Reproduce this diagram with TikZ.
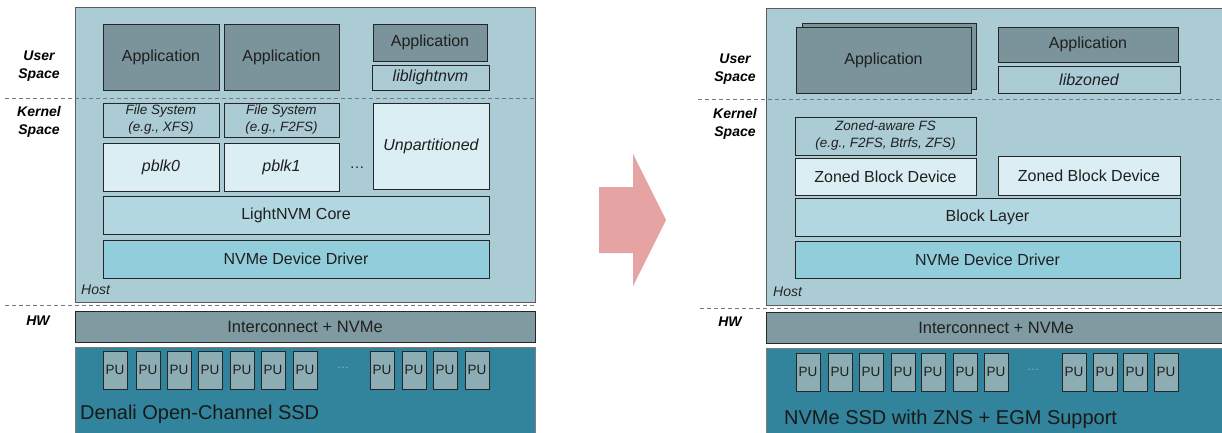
\documentclass[tikz,border=0pt]{standalone}
\usepackage{fontspec}
\setmainfont{Liberation Sans}

\definecolor{hostbg}{HTML}{ABCCD5}
\definecolor{appbg}{HTML}{7B939A}
\definecolor{palebg}{HTML}{DAEEF3}
\definecolor{corebg}{HTML}{B3D7E0}
\definecolor{drvbg}{HTML}{92CDDC}
\definecolor{icbg}{HTML}{7F9BA1}
\definecolor{ssdbg}{HTML}{31849B}
\definecolor{pubg}{HTML}{8DADB5}
\definecolor{edge}{HTML}{262626}
\definecolor{dashc}{HTML}{6E7B80}
\definecolor{arrowc}{HTML}{E6A3A3}
\definecolor{dotc}{HTML}{8FB8C4}

\tikzset{
  blk/.style={draw=edge, line width=0.9pt, inner sep=0pt, text=black!88,
              font=\fontsize{16}{18}\selectfont, align=center},
  panel/.style={draw=edge!75, line width=0.9pt, fill=hostbg, inner sep=0pt},
  app/.style={blk, fill=appbg},
  lib/.style={blk, fill=hostbg, font=\fontsize{16}{18}\selectfont\itshape},
  fsbox/.style={blk, fill=hostbg, font=\fontsize{13.5}{17}\selectfont\itshape},
  pale/.style={blk, fill=palebg},
  paleit/.style={blk, fill=palebg, font=\fontsize{16}{18}\selectfont\itshape},
  core/.style={blk, fill=corebg},
  drv/.style={blk, fill=drvbg},
  ic/.style={blk, fill=icbg, font=\fontsize{16.5}{18}\selectfont},
  ssd/.style={draw=edge!60, line width=0.9pt, fill=ssdbg, inner sep=0pt},
  pu/.style={blk, fill=pubg, font=\fontsize{13.5}{16}\selectfont},
  side/.style={font=\fontsize{14}{17.5}\selectfont\bfseries\itshape, align=center, text=black},
  hostlbl/.style={font=\fontsize{14}{16}\selectfont\itshape, text=black!85, anchor=west, inner sep=0pt},
  ssdlbl/.style={font=\fontsize{20}{22}\selectfont, text=black!90, anchor=west, inner sep=0pt},
  sep/.style={draw=dashc, line width=1pt, dash pattern=on 4pt off 3pt},
}

% box from its corners: name, x1, y1, x2, y2, style, text
\newcommand\mkbox[7]{%
  \node[#6, minimum width={#4-(#2)}, minimum height={#5-(#3)}]
    (#1) at ({((#2)+(#4))/2},{((#3)+(#5))/2}) {#7};}

\begin{document}
\begin{tikzpicture}[x=1pt, y=-1pt]
\useasboundingbox (0,0) rectangle (1222,432);

%% ---------------- Open-channel stack ----------------
\mkbox{hostL}{75}{7}{535}{302}{panel}{}
\draw[sep] (5,98) -- (535,98);
\draw[sep] (5,305) -- (535,305);

\node[side] (usL) at (39,66) {User\\Space};
\node[side] (ksL) at (39,122) {Kernel\\Space};
\node[side] (hwL) at (38,321) {HW};

\mkbox{appL1}{103}{24}{219}{90}{app}{Application}
\mkbox{appL2}{224}{24}{339}{90}{app}{Application}
\mkbox{appL3}{373}{24}{487}{61}{app}{Application}
\mkbox{libL}{372}{65}{489}{90}{lib}{liblightnvm}

\mkbox{fsL1}{103}{103}{219}{137}{fsbox}{File System\\(e.g., XFS)}
\mkbox{fsL2}{224}{103}{339}{137}{fsbox}{File System\\(e.g., F2FS)}
\mkbox{pblk0}{103}{143}{219}{191}{paleit}{pblk0}
\mkbox{pblk1}{224}{143}{339}{191}{paleit}{pblk1}
\node[font=\fontsize{15}{16}\selectfont, text=black!85] (dotsK) at (357,168) {\dots};
\mkbox{unpart}{373}{103}{489}{189}{paleit}{Unpartitioned}

\mkbox{lnvm}{103}{196}{489}{234}{core}{LightNVM Core}
\mkbox{drvL}{103}{240}{489}{278}{drv}{NVMe Device Driver}
\node[hostlbl] (hostLlbl) at (81,290) {Host};

\mkbox{icL}{75}{311}{535}{342}{ic}{Interconnect + NVMe}
\mkbox{ssdL}{75}{347}{535}{434}{ssd}{}
\foreach \x [count=\i] in {103,136,167,198,230,261,293,370,402,433,465}
  {\mkbox{puL\i}{\x}{351}{\x+24}{389}{pu}{PU}}
\node[font=\fontsize{12}{14}\selectfont, text=dotc] (dotsL) at (343,368) {\dots};
\node[ssdlbl] (ssdLlbl) at (80,414) {Denali Open-Channel SSD};

%% ---------------- transition arrow ----------------
\fill[arrowc] (599,187) -- (633,187) -- (633,154) -- (666,220)
  -- (633,286) -- (633,253) -- (599,253) -- cycle;

%% ---------------- Zoned namespace stack ----------------
\mkbox{hostR}{766}{8}{1226}{305}{panel}{}
\draw[sep] (698,99) -- (1222,99);
\draw[sep] (700,308) -- (1222,308);

\node[side] (usR) at (735,69) {User\\Space};
\node[side] (ksR) at (735,124) {Kernel\\Space};
\node[side] (hwR) at (730,322) {HW};

\mkbox{appRback}{802}{23}{976}{89}{app}{}
\mkbox{appR1}{796}{27}{971}{93}{app}{Application}
\mkbox{appR2}{998}{27}{1178}{62}{app}{Application}
\mkbox{libR}{998}{66}{1180}{93}{lib}{libzoned}

\mkbox{fsR}{795}{117}{976}{155}{fsbox}{Zoned-aware FS\\(e.g., F2FS, Btrfs, ZFS)}
\mkbox{zbd1}{795}{158}{976}{195}{pale}{Zoned Block Device}
\mkbox{zbd2}{998}{156}{1180}{195}{pale}{Zoned Block Device}

\mkbox{blkl}{795}{198}{1180}{236}{core}{Block Layer}
\mkbox{drvR}{795}{241}{1180}{278}{drv}{NVMe Device Driver}
\node[hostlbl] (hostRlbl) at (773,292) {Host};

\mkbox{icR}{766}{312}{1226}{343}{ic}{Interconnect + NVMe}
\mkbox{ssdR}{766}{348}{1226}{436}{ssd}{}
\foreach \x [count=\i] in {796,828,859,891,921,953,984,1062,1093,1123,1154}
  {\mkbox{puR\i}{\x}{353}{\x+24}{391}{pu}{PU}}
\node[font=\fontsize{12}{14}\selectfont, text=dotc] (dotsR) at (1033,370) {\dots};
\node[ssdlbl] (ssdRlbl) at (784,419) {NVMe SSD with ZNS + EGM Support};

\end{tikzpicture}
\end{document}
